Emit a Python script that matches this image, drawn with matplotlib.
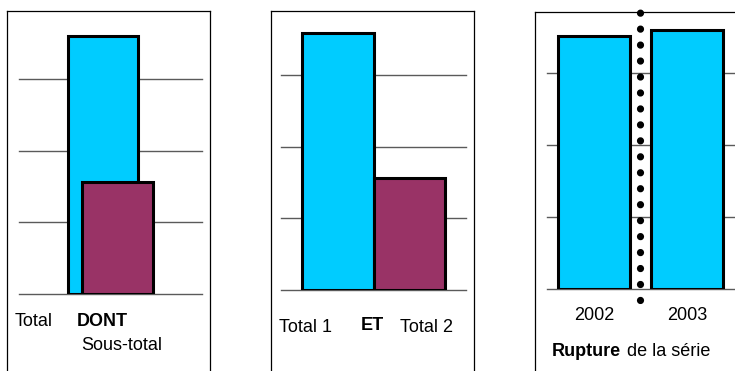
import matplotlib.pyplot as plt

plt.rcParams["font.family"] = ["Liberation Sans", "DejaVu Sans"]

W, H = 735, 371

BLUE = "#00CCFF"
PURPLE = "#993366"

# panel 1 : total and the part it contains
dont_values = [3.60, 1.56]
dont_positions = [0.0, 0.207]

# panel 2 : two totals side by side
et_values = [3.58, 1.56]
et_positions = [0.0, 1.0]

# panel 3 : break in the series
years = ["2002", "2003"]
year_values = [3.51, 3.60]
break_position = 0.5


def fx(x):
    return x / W


def fy(y):
    return 1 - y / H


def make_axes(fig, left, right, base, top, xlim, ylim):
    ax = fig.add_axes([fx(left), fy(base), (right - left) / W, (base - top) / H])
    ax.set_xlim(*xlim)
    ax.set_ylim(*ylim)
    ax.set_yticks([0, 1, 2, 3])
    ax.set_xticks([])
    ax.yaxis.grid(True, color="#5a5a5a", linewidth=1.0)
    for gl in ax.get_ygridlines():
        gl.set_clip_on(False)
    ax.tick_params(left=False, labelleft=False)
    ax.set_axisbelow(True)
    for s in ax.spines.values():
        s.set_visible(False)
    ax.patch.set_alpha(0)
    return ax


def box(fig, left, right, top, right_edge=True):
    kw = dict(color="black", linewidth=0.9, transform=fig.transFigure)
    fig.add_artist(plt.Line2D([fx(left), fx(left)], [fy(top), -0.05], **kw))
    fig.add_artist(plt.Line2D([fx(left), fx(right)], [fy(top), fy(top)], **kw))
    if right_edge:
        fig.add_artist(plt.Line2D([fx(right), fx(right)], [fy(top), -0.05], **kw))


fig = plt.figure(figsize=(W / 100, H / 100), dpi=100)

bar_kw = dict(edgecolor="black", linewidth=2.2)
txt_kw = dict(fontsize=13, va="center", transform=fig.transFigure)

# ---- panel 1
box(fig, 7, 210, 11)
ax1 = make_axes(fig, 19, 202, 294, 11, (-1.2, 1.414), (0, (294 - 11) / 71.7))
ax1.bar(dont_positions[0], dont_values[0], width=1.0, color=BLUE, **bar_kw)
ax1.bar(dont_positions[1], dont_values[1], width=1.0, color=PURPLE, **bar_kw)
fig.text(fx(15), fy(321), "Total", **txt_kw)
fig.text(fx(77), fy(321), "DONT", fontweight="bold", **txt_kw)
fig.text(fx(81), fy(345), "Sous-total", **txt_kw)

# ---- panel 2
box(fig, 271, 474, 11)
ax2 = make_axes(fig, 281, 466, 290, 11, (-0.8, 1.79), (0, (290 - 11) / 71.7))
ax2.bar(et_positions, et_values, width=1.0, color=[BLUE, PURPLE], **bar_kw)
fig.text(fx(279), fy(327), "Total 1", **txt_kw)
fig.text(fx(361), fy(326), "ET", fontweight="bold", **txt_kw)
fig.text(fx(400), fy(327), "Total 2", **txt_kw)

# ---- panel 3
box(fig, 535, 760, 12, right_edge=False)
ax3 = make_axes(fig, 547, 740, 289, 12, (-0.505, 1.57), (0, (289 - 12) / 72))
ax3.bar(range(len(years)), year_values, width=0.774, color=BLUE, **bar_kw)
ax3.plot([break_position, break_position], [-0.153, 3.87], color="black",
         linewidth=5.2, linestyle=(0, (0.01, 2.2)), dash_capstyle="round",
         solid_capstyle="round", clip_on=False, zorder=5)
fig.text(fx(594), fy(316), years[0], ha="center", **txt_kw)
fig.text(fx(687), fy(316), years[1], ha="center", **txt_kw)
fig.text(fx(552), fy(352), "Rupture", fontweight="bold", **txt_kw)
fig.text(fx(627), fy(352), "de la série", **txt_kw)

fig.savefig("out.png", dpi=100)
